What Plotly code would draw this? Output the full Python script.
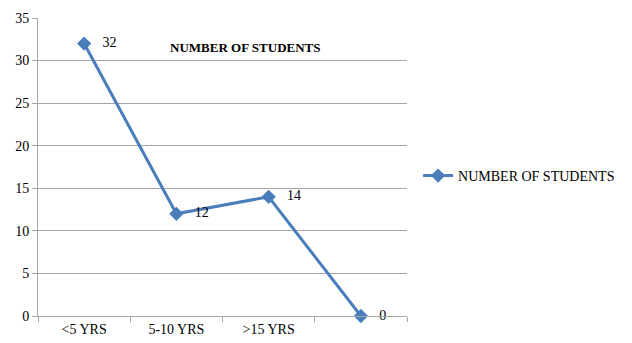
import plotly.graph_objects as go

categories = ["<5 YRS", "5-10 YRS", ">15 YRS", " "]
students = [32, 12, 14, 0]
series_name = "NUMBER OF STUDENTS"
title_text = "NUMBER OF STUDENTS"

blue = "#4A7EBB"
grid = "#A6A6A6"
font = "Liberation Serif"

fig = go.Figure()
fig.add_trace(go.Scatter(
    x=categories, y=students, name=series_name,
    mode="lines+markers+text",
    text=["   " + str(v) for v in students],
    textposition="middle right",
    textfont=dict(family=font, size=14, color="#000000"),
    line=dict(color=blue, width=3),
    marker=dict(symbol="diamond", size=11, color=blue),
    cliponaxis=False,
))

fig.update_layout(
    width=632, height=343,
    margin=dict(l=38, r=220, t=18, b=27),
    paper_bgcolor="white", plot_bgcolor="white",
    font=dict(family=font, size=14, color="#000000"),
    showlegend=True,
    legend=dict(x=1.03, y=0.47, xanchor="left", yanchor="middle",
                font=dict(family=font, size=14, color="#000000"),
                itemwidth=30, tracegroupgap=0, bgcolor="rgba(0,0,0,0)"),
    xaxis=dict(type="category", range=[-0.5, 3.5], showgrid=False, showline=True,
               linecolor=grid, linewidth=1, ticks="outside", tickson="boundaries",
               ticklen=5, tickcolor=grid, tickfont=dict(family=font, size=14),
               zeroline=False, automargin=False),
    yaxis=dict(range=[0, 35], dtick=5, showgrid=True, gridcolor=grid, gridwidth=1,
               showline=True, linecolor=grid, ticks="outside", ticklen=5, tickcolor=grid,
               tickfont=dict(family=font, size=14), zeroline=False, automargin=False),
    annotations=[dict(text="<b>" + title_text + "</b>", x=0.77, y=0.933,
                      xref="paper", yref="paper", showarrow=False,
                      font=dict(family=font, size=13, color="#000000"))],
)

fig.write_html("out.html")
